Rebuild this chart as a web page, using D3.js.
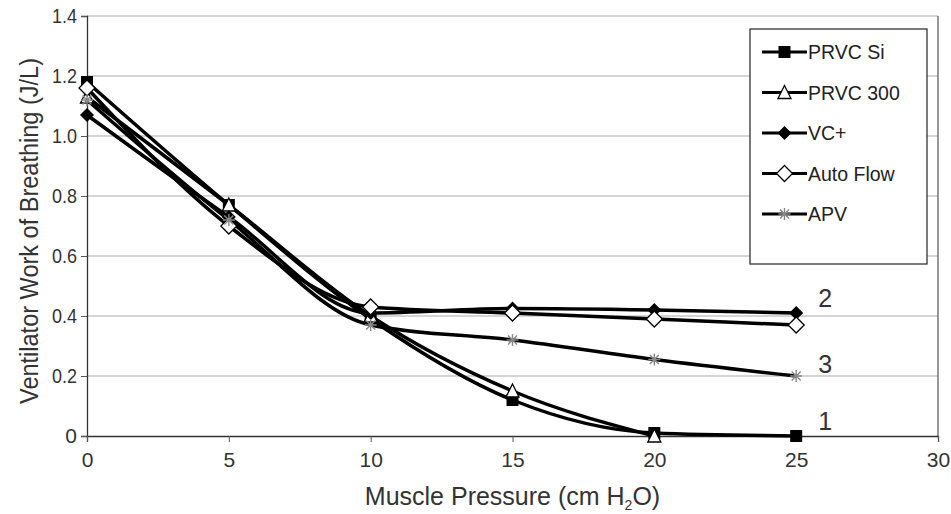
<!DOCTYPE html>
<html>
<head>
<meta charset="utf-8">
<script src="https://cdn.jsdelivr.net/npm/d3@7/dist/d3.min.js"></script>
<style>
  body { margin: 0; background: #fff; }
  text { font-family: "Liberation Sans", Arial, sans-serif; }
</style>
</head>
<body>
<div id="chart"></div>
<script>
// DATA
const pressures = [0, 5, 10, 15, 20, 25];
const prvcSi = [1.18, 0.77, 0.39, 0.12, 0.01, 0.0];
const prvc300 = [1.13, 0.77, 0.40, 0.15, 0.0, null];
const vcPlus = [1.07, 0.73, 0.41, 0.425, 0.42, 0.41];
const autoFlow = [1.16, 0.70, 0.43, 0.41, 0.39, 0.37];
const apv = [1.12, 0.72, 0.37, 0.32, 0.255, 0.20];
const seriesNames = ['PRVC Si', 'PRVC 300', 'VC+', 'Auto Flow', 'APV'];
const xTicks = [0, 5, 10, 15, 20, 25, 30];
const yTicks = [0, 0.2, 0.4, 0.6, 0.8, 1.0, 1.2, 1.4];
const groupLabels = [{ text: '2', v: 0.43 }, { text: '3', v: 0.21 }, { text: '1', v: 0.02 }];

const series = [
  { name: seriesNames[1], values: prvc300, marker: 'triangle' },
  { name: seriesNames[0], values: prvcSi, marker: 'square' },
  { name: seriesNames[2], values: vcPlus, marker: 'diamondFill' },
  { name: seriesNames[3], values: autoFlow, marker: 'diamondOpen' },
  { name: seriesNames[4], values: apv, marker: 'star' }
];
const legendOrder = [1, 0, 2, 3, 4];

// DIMENSIONS
const width = 951, height = 514;
const margin = { top: 16, right: 13, bottom: 78, left: 87 };
const w = width - margin.left - margin.right;
const h = height - margin.top - margin.bottom;

const svg = d3.select('#chart').append('svg')
  .attr('width', width).attr('height', height);
const g = svg.append('g').attr('transform', `translate(${margin.left},${margin.top})`);

const x = d3.scaleLinear().domain([0, 30]).range([0, w]);
const y = d3.scaleLinear().domain([0, 1.4]).range([h, 0]);

// GRID
g.append('g').selectAll('line').data(yTicks.filter(d => d > 0)).join('line')
  .attr('x1', 0).attr('x2', w)
  .attr('y1', d => y(d)).attr('y2', d => y(d))
  .attr('stroke', '#aaa').attr('stroke-width', 1.2);
g.append('line').attr('x1', w).attr('x2', w).attr('y1', 0).attr('y2', h)
  .attr('stroke', '#555').attr('stroke-width', 1.2);

// AXES
const yAxisG = g.append('g')
  .call(d3.axisLeft(y).tickValues(yTicks).tickFormat(d => d === 0 ? '0' : d3.format('.1f')(d))
    .tickSize(6).tickPadding(3));
const xAxisG = g.append('g').attr('transform', `translate(0,${h})`)
  .call(d3.axisBottom(x).tickValues(xTicks).tickSize(6).tickPadding(10));
[xAxisG, yAxisG].forEach(a => {
  a.select('.domain').attr('stroke', '#333').attr('stroke-width', 1.3);
  a.selectAll('.tick line').attr('stroke', '#555');
  a.selectAll('.tick text').attr('fill', '#333')
    .style('font-family', '"Liberation Sans", Arial, sans-serif');
});
yAxisG.selectAll('.tick text').attr('font-size', 21).attr('x', -10)
  .filter(d => d !== 0).attr('textLength', 25).attr('lengthAdjust', 'spacingAndGlyphs');
xAxisG.selectAll('.tick text').attr('font-size', 21);

// LINES
const line = d3.line()
  .defined(d => d !== null)
  .x((d, i) => x(pressures[i]))
  .y(d => y(d))
  .curve(d3.curveMonotoneX);

g.append('g').selectAll('path').data(series).join('path')
  .attr('d', d => line(d.values))
  .attr('fill', 'none').attr('stroke', '#000').attr('stroke-width', 3.5);

// MARKERS
function drawMarker(sel, type) {
  if (type === 'square') {
    sel.append('rect').attr('x', -6).attr('y', -6).attr('width', 12).attr('height', 12)
      .attr('fill', '#000');
  } else if (type === 'triangle') {
    sel.append('path').attr('d', 'M0,-7L6.5,6L-6.5,6Z')
      .attr('fill', '#fff').attr('stroke', '#000').attr('stroke-width', 1.3);
  } else if (type === 'diamondFill') {
    sel.append('path').attr('d', 'M0,-7L7,0L0,7L-7,0Z').attr('fill', '#000');
  } else if (type === 'diamondOpen') {
    sel.append('path').attr('d', 'M0,-8L8,0L0,8L-8,0Z')
      .attr('fill', '#fff').attr('stroke', '#000').attr('stroke-width', 1.3);
  } else if (type === 'star') {
    sel.append('path').attr('d', 'M-6,0L6,0M0,-6L0,6M-4.5,-4.5L4.5,4.5M-4.5,4.5L4.5,-4.5')
      .attr('stroke', '#888').attr('stroke-width', 1.4);
  }
}

// square under triangle at 20, alone at 25
const markerOrder = [series[1], series[0], series[2], series[3], series[4]];
markerOrder.forEach(s => {
  g.append('g').selectAll('g')
    .data(s.values.map((v, i) => ({ v, p: pressures[i] })).filter(d => d.v !== null))
    .join('g')
    .attr('transform', d => `translate(${x(d.p)},${y(d.v)})`)
    .each(function () { drawMarker(d3.select(this), s.marker); });
});

// GROUP LABELS
g.append('g').selectAll('text').data(groupLabels).join('text')
  .attr('x', x(25) + 22).attr('y', d => y(d.v))
  .attr('font-size', 25).attr('fill', '#333')
  .text(d => d.text);

// LEGEND
const legend = g.append('g').attr('transform', `translate(${663},${13})`);
legend.append('rect').attr('width', 177).attr('height', 235)
  .attr('fill', '#fff').attr('stroke', '#333').attr('stroke-width', 1.3);
legendOrder.map(k => series[k]).forEach((s, i) => {
  const item = legend.append('g').attr('transform', `translate(0,${23 + i * 40.5})`);
  item.append('line').attr('x1', 12).attr('x2', 57).attr('y1', 0).attr('y2', 0)
    .attr('stroke', '#000').attr('stroke-width', 3);
  const m = item.append('g').attr('transform', 'translate(34.5,0)');
  drawMarker(m, s.marker);
  item.append('text').attr('x', 58).attr('y', 7)
    .attr('font-size', 19.5).attr('fill', '#222').text(s.name);
});

// AXIS TITLES
svg.append('text')
  .attr('transform', `translate(38,${margin.top + h / 2 + 5}) rotate(-90)`)
  .attr('text-anchor', 'middle').attr('font-size', 25).attr('fill', '#333')
  .attr('textLength', 346).attr('lengthAdjust', 'spacingAndGlyphs')
  .text('Ventilator Work of Breathing (J/L)');

const xt = svg.append('text')
  .attr('x', margin.left + w / 2).attr('y', 505)
  .attr('text-anchor', 'middle').attr('font-size', 25).attr('fill', '#333');
xt.append('tspan').text('Muscle Pressure (cm H');
xt.append('tspan').attr('font-size', 14).attr('dy', 5).text('2');
xt.append('tspan').attr('dy', -5).text('O)');
</script>
</body>
</html>
